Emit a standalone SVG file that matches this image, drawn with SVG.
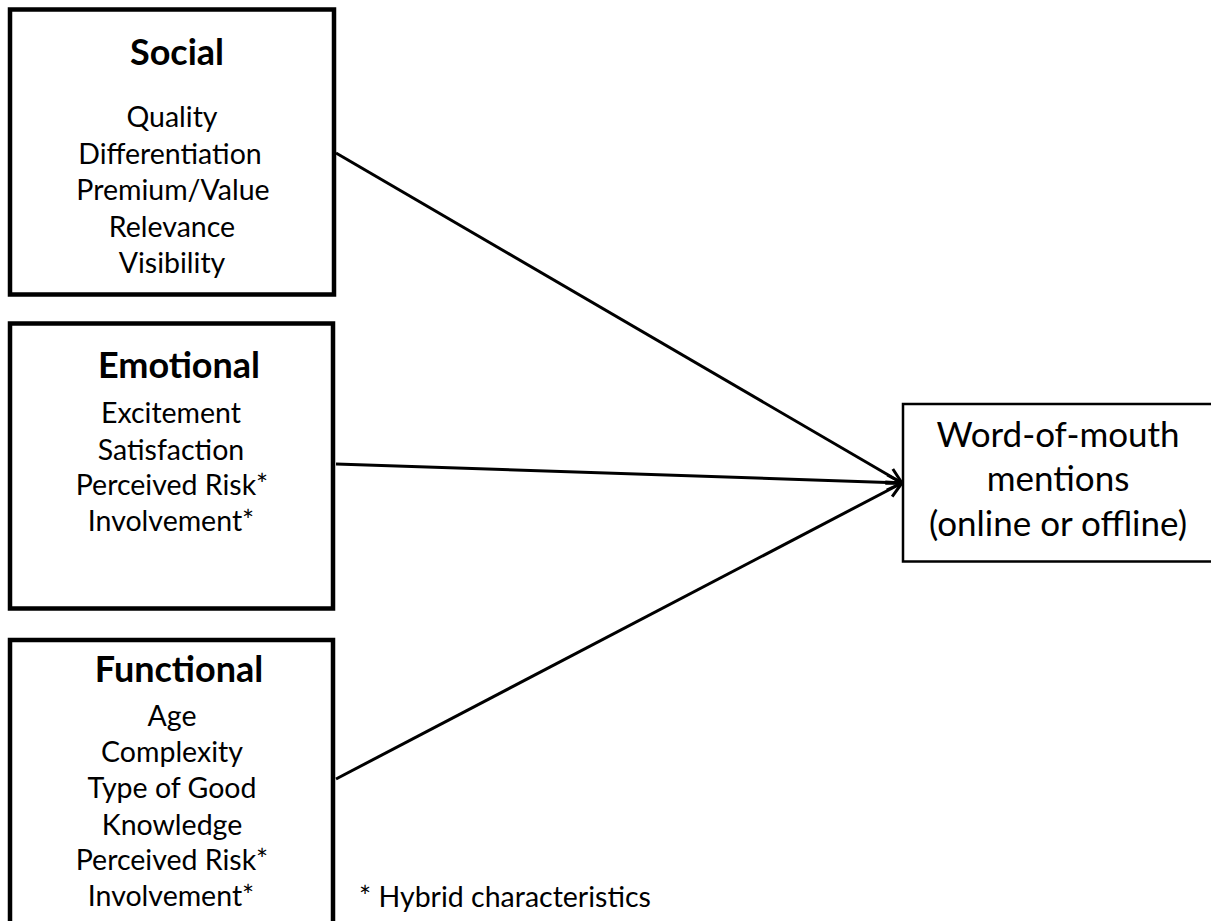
<svg xmlns="http://www.w3.org/2000/svg" width="1211" height="921" viewBox="0 0 1211 921">
<style>
.box{fill:#fff;stroke:#000;stroke-width:4.5}
.box2{fill:#fff;stroke:#000;stroke-width:2.5}
.t{font-family:Lato,"Liberation Sans",sans-serif;fill:#000;text-anchor:middle}
.title{font-size:36px;font-weight:bold}
.item{font-size:28.5px}
.big{font-size:35px}
.conn{stroke:#000;stroke-width:3;fill:none}
</style>
<defs>
<marker id="arr" viewBox="0 0 12 12" refX="11" refY="6" markerWidth="6" markerHeight="6" markerUnits="strokeWidth" orient="auto">
<path d="M1,1 L11,6 L1,11" fill="none" stroke="#000" stroke-width="2"/>
</marker>
</defs>
<rect width="1211" height="921" fill="#fff"/>
<g id="connectors">
<line class="conn" x1="336" y1="153" x2="902" y2="483" marker-end="url(#arr)"/>
<line class="conn" x1="336" y1="464" x2="902" y2="483" marker-end="url(#arr)"/>
<line class="conn" x1="336" y1="779" x2="902" y2="483" marker-end="url(#arr)"/>
</g>
<g id="social">
<rect class="box" x="10" y="9.5" width="324" height="285"/>
<text class="t title" x="177" y="65">Social</text>
<text class="t item" x="172" y="127">Quality</text>
<text class="t item" x="170" y="164">Differentiation</text>
<text class="t item" x="173" y="200">Premium/Value</text>
<text class="t item" x="172" y="237">Relevance</text>
<text class="t item" x="172" y="273">Visibility</text>
</g>
<g id="emotional">
<rect class="box" x="10" y="323.5" width="323" height="285"/>
<text class="t title" x="179" y="378">Emotional</text>
<text class="t item" x="171" y="423">Excitement</text>
<text class="t item" x="171" y="460">Satisfaction</text>
<text class="t item" x="172" y="495">Perceived Risk*</text>
<text class="t item" x="171" y="531">Involvement*</text>
</g>
<g id="functional">
<rect class="box" x="10" y="640" width="323" height="300"/>
<text class="t title" x="179" y="682">Functional</text>
<text class="t item" x="172" y="726">Age</text>
<text class="t item" x="172" y="762">Complexity</text>
<text class="t item" x="172" y="798">Type of Good</text>
<text class="t item" x="172" y="835">Knowledge</text>
<text class="t item" x="172" y="870">Perceived Risk*</text>
<text class="t item" x="171" y="906">Involvement*</text>
</g>
<g id="wom">
<rect class="box2" x="903" y="404" width="320" height="157.5"/>
<text class="t big" x="1058" y="447">Word-of-mouth</text>
<text class="t big" x="1058" y="491">mentions</text>
<text class="t big" x="1058" y="536">(online or offline)</text>
</g>
<g id="note">
<text class="t item" x="505" y="907">* Hybrid characteristics</text>
</g>
</svg>
